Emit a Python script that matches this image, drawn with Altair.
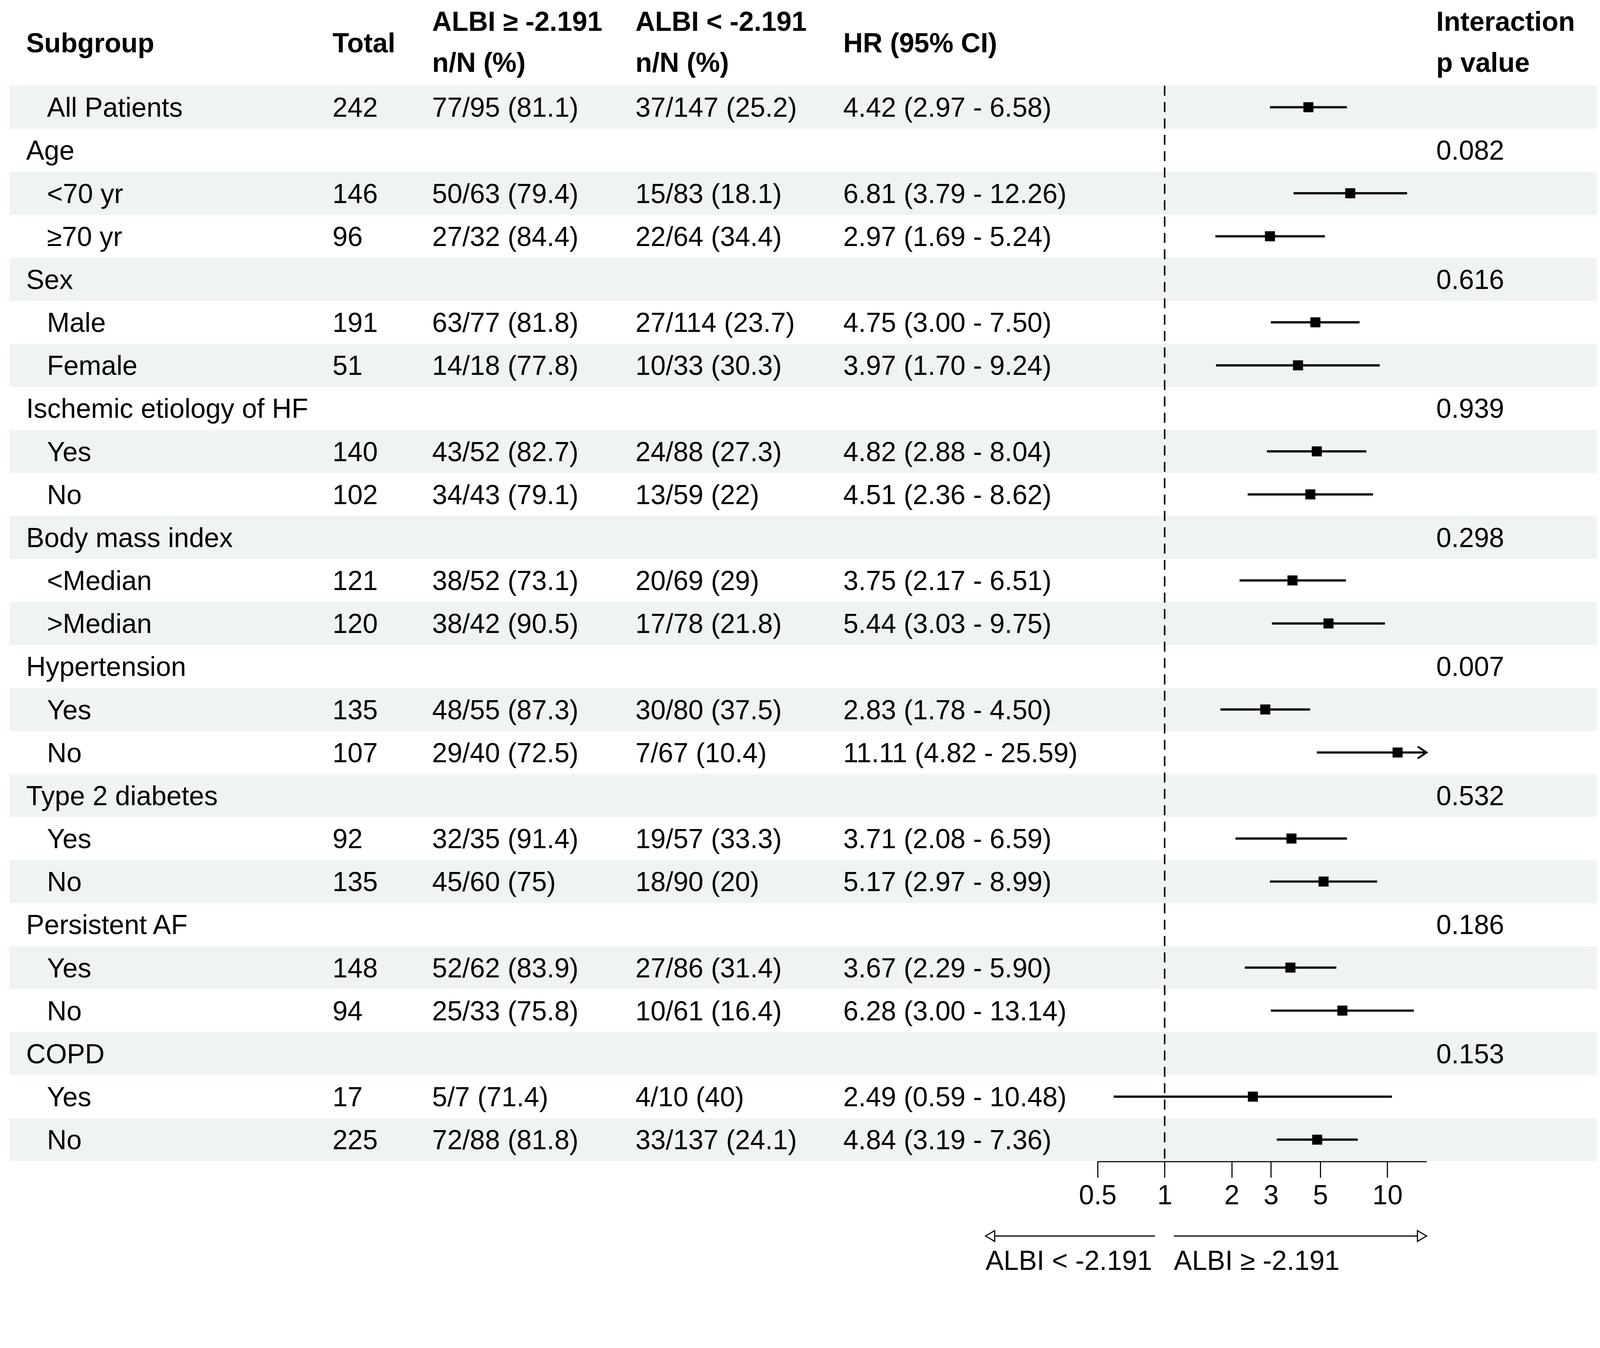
import altair as alt
import pandas as pd

# ---------------- data ----------------
subgroup = ["All Patients", "Age", "<70 yr", "≥70 yr", "Sex", "Male", "Female",
            "Ischemic etiology of HF", "Yes", "No", "Body mass index", "<Median", ">Median",
            "Hypertension", "Yes", "No", "Type 2 diabetes", "Yes", "No",
            "Persistent AF", "Yes", "No", "COPD", "Yes", "No"]
level = [1, 0, 1, 1, 0, 1, 1, 0, 1, 1, 0, 1, 1, 0, 1, 1, 0, 1, 1, 0, 1, 1, 0, 1, 1]
total = ["242", "", "146", "96", "", "191", "51", "", "140", "102", "", "121", "120",
         "", "135", "107", "", "92", "135", "", "148", "94", "", "17", "225"]
albi_high = ["77/95 (81.1)", "", "50/63 (79.4)", "27/32 (84.4)", "", "63/77 (81.8)", "14/18 (77.8)",
             "", "43/52 (82.7)", "34/43 (79.1)", "", "38/52 (73.1)", "38/42 (90.5)",
             "", "48/55 (87.3)", "29/40 (72.5)", "", "32/35 (91.4)", "45/60 (75)",
             "", "52/62 (83.9)", "25/33 (75.8)", "", "5/7 (71.4)", "72/88 (81.8)"]
albi_low = ["37/147 (25.2)", "", "15/83 (18.1)", "22/64 (34.4)", "", "27/114 (23.7)", "10/33 (30.3)",
            "", "24/88 (27.3)", "13/59 (22)", "", "20/69 (29)", "17/78 (21.8)",
            "", "30/80 (37.5)", "7/67 (10.4)", "", "19/57 (33.3)", "18/90 (20)",
            "", "27/86 (31.4)", "10/61 (16.4)", "", "4/10 (40)", "33/137 (24.1)"]
hr = [4.42, None, 6.81, 2.97, None, 4.75, 3.97, None, 4.82, 4.51, None, 3.75, 5.44,
      None, 2.83, 11.11, None, 3.71, 5.17, None, 3.67, 6.28, None, 2.49, 4.84]
lo = [2.97, None, 3.79, 1.69, None, 3.00, 1.70, None, 2.88, 2.36, None, 2.17, 3.03,
      None, 1.78, 4.82, None, 2.08, 2.97, None, 2.29, 3.00, None, 0.59, 3.19]
hi = [6.58, None, 12.26, 5.24, None, 7.50, 9.24, None, 8.04, 8.62, None, 6.51, 9.75,
      None, 4.50, 25.59, None, 6.59, 8.99, None, 5.90, 13.14, None, 10.48, 7.36]
pval = ["", "0.082", "", "", "0.616", "", "", "0.939", "", "", "0.298", "", "",
        "0.007", "", "", "0.532", "", "", "0.186", "", "", "0.153", "", ""]

x_ticks = [0.5, 1, 2, 3, 5, 10]
x_limits = [0.5, 15]
dir_labels = ["ALBI < -2.191", "ALBI ≥ -2.191"]
dir_start = [0.157, 1.10]
dir_end = [0.905, 15]

# ---------------- layout (pixel widths of the table columns) ----------------
col_w = [869, 268, 547, 559, 684, 885, 458]
col_x = [sum(col_w[:i]) for i in range(len(col_w))]
W = sum(col_w)
H = 3119.5
FONT = "Liberation Sans"
FS = 73
BAND = "#eff3f2"

# ---------------- build table ----------------
hr_text = [
    "" if h is None else f"{h:.2f} ({l:.2f} - {u:.2f})" for h, l, u in zip(hr, lo, hi)
]
df = pd.DataFrame({
    "idx": list(range(len(subgroup))),
    "subgroup": subgroup,
    "level": level,
    "total": total,
    "albi_high": albi_high,
    "albi_low": albi_low,
    "hr": hr, "lo": lo, "hi": hi,
    "hr_text": hr_text,
    "pval": pval,
})

yscale = alt.Scale(domain=[-2.45, 24.5], reverse=True, nice=False, zero=False)
xscale = alt.Scale(type="log", domain=x_limits, range=[col_x[5], col_x[5] + col_w[5]],
                   nice=False)
xaxis = alt.Axis(values=x_ticks, format="~g", title=None, grid=False)


def Y(field):
    return alt.Y(field, scale=yscale, axis=None)


def X(field):
    return alt.X(field, scale=xscale, axis=xaxis)


bands = (
    alt.Chart(df)
    .transform_filter("datum.idx % 2 == 0")
    .transform_calculate(y0="datum.idx - 0.5", y1="datum.idx + 0.5")
    .mark_rect(color=BAND)
    .encode(x=alt.value(0), x2=alt.value(W), y=Y("y0:Q"), y2="y1:Q")
)


def header(lines, ys, xpos):
    hdf = pd.DataFrame({"t": lines, "hy": ys})
    return (
        alt.Chart(hdf)
        .mark_text(align="left", baseline="middle", font=FONT, fontSize=FS,
                   fontWeight="bold", color="black", dy=4)
        .encode(x=alt.value(xpos), y=Y("hy:Q"), text="t:N")
    )


def col_text(field, xpos, filt=None):
    c = alt.Chart(df)
    if filt:
        c = c.transform_filter(filt)
    return (
        c.mark_text(align="left", baseline="middle", font=FONT, fontSize=FS,
                    color="black", dy=4)
        .encode(x=alt.value(xpos), y=Y("idx:Q"), text=f"{field}:N")
    )


text_layers = [
    header(["Subgroup"], [-1.5], col_x[0] + 45),
    col_text("subgroup", col_x[0] + 45, "datum.level == 0"),
    col_text("subgroup", col_x[0] + 101, "datum.level == 1"),
    header(["Total"], [-1.5], col_x[1]),
    col_text("total", col_x[1]),
    header(["ALBI ≥ -2.191", "n/N (%)"], [-2, -1.05], col_x[2]),
    col_text("albi_high", col_x[2]),
    header(["ALBI < -2.191", "n/N (%)"], [-2, -1.05], col_x[3]),
    col_text("albi_low", col_x[3]),
    header(["HR (95% CI)"], [-1.5], col_x[4]),
    col_text("hr_text", col_x[4]),
    header(["Interaction", "p value"], [-2, -1.05], col_x[6] + 26),
    col_text("pval", col_x[6] + 26),
]

# ---------------- forest part ----------------
est = alt.Chart(df).transform_filter("isValid(datum.hr)").transform_calculate(
    hi_c=f"min(datum.hi, {x_limits[1]})"
)

ref_line = (
    alt.Chart(pd.DataFrame({"ref": [1], "ya": [-0.5], "yb": [24.5]}))
    .mark_rule(color="black", strokeWidth=4, strokeDash=[27, 17])
    .encode(x=X("ref:Q"), y=Y("ya:Q"), y2="yb:Q")
)
ci = est.mark_rule(color="black", strokeWidth=6).encode(
    x=X("lo:Q"), x2="hi_c:Q", y=Y("idx:Q"))
chevron = est.transform_filter(f"datum.hi > {x_limits[1]}").mark_point(
    shape="M-1.5,-1L0,0L-1.5,1", filled=False, size=1024, color="black",
    strokeWidth=5, opacity=1
).encode(x=X("hi_c:Q"), y=Y("idx:Q"))
pts = est.mark_point(shape="square", filled=True, size=729, color="black", opacity=1).encode(
    x=X("hr:Q"), y=Y("idx:Q"))

ddf = pd.DataFrame({"lab": dir_labels, "xs": dir_start, "xe": dir_end,
                    "ay": [26.24, 26.24], "ty": [26.80, 26.80]})
dir_line = alt.Chart(ddf).mark_rule(color="black", strokeWidth=3).encode(
    x=X("xs:Q"), x2="xe:Q", y=Y("ay:Q"))
head_l = alt.Chart(ddf).transform_filter("datum.xs < 1").mark_point(
    shape="M1.7,-1L0,0L1.7,1Z", filled=True, fill="white", stroke="black",
    strokeWidth=3, size=841, opacity=1
).encode(x=X("xs:Q"), y=Y("ay:Q"))
head_r = alt.Chart(ddf).transform_filter("datum.xs > 1").mark_point(
    shape="M-1.7,-1L0,0L-1.7,1Z", filled=True, fill="white", stroke="black",
    strokeWidth=3, size=841, opacity=1
).encode(x=X("xe:Q"), y=Y("ay:Q"))
dir_text = alt.Chart(ddf).mark_text(
    align="left", baseline="middle", font=FONT, fontSize=FS, color="black", dy=4
).encode(x=X("xs:Q"), y=Y("ty:Q"), text="lab:N")

chart = (
    alt.layer(bands, ref_line, ci, chevron, pts, dir_line, head_l, head_r, dir_text,
              *text_layers)
    .properties(
        width=W, height=H,
        padding={"left": 17, "top": -88, "right": 0, "bottom": 300},
        autosize=alt.AutoSizeParams(type="none"),
        background="white",
    )
    .configure_view(stroke="transparent", strokeWidth=0)
    .configure_axisX(
        domainColor="black", domainWidth=4.5, tickColor="black", tickWidth=3,
        tickSize=44, labelFont=FONT, labelFontSize=FS, labelColor="black",
        labelPadding=14, labelFlush=False, labelOverlap=False
    )
)

chart.save("out.html", embed_options={"renderer": "svg", "actions": False})
